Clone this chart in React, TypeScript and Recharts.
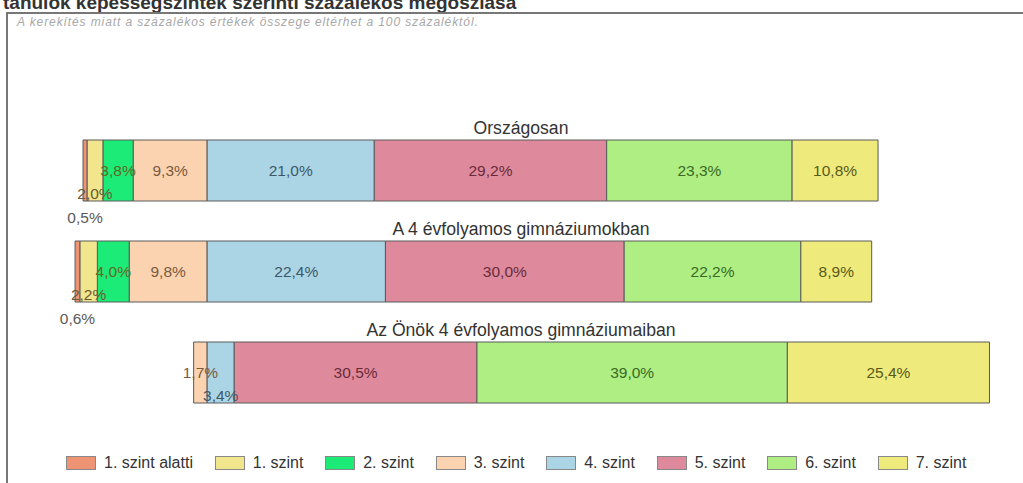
import { BarChart, Bar, XAxis, YAxis, LabelList } from "recharts";

const rowNames = [
  "Országosan",
  "A 4 évfolyamos gimnáziumokban",
  "Az Önök 4 évfolyamos gimnáziumaiban",
];

const levelNames = [
  "1. szint alatti",
  "1. szint",
  "2. szint",
  "3. szint",
  "4. szint",
  "5. szint",
  "6. szint",
  "7. szint",
];

// percentages per row (Országosan, 4 évf. gimn., Önök)
const below1 = [0.5, 0.6, 0];
const lvl1 = [2.0, 2.2, 0];
const lvl2 = [3.8, 4.0, 0];
const lvl3 = [9.3, 9.8, 1.7];
const lvl4 = [21.0, 22.4, 3.4];
const lvl5 = [29.2, 30.0, 30.5];
const lvl6 = [23.3, 22.2, 39.0];
const lvl7 = [10.8, 8.9, 25.4];

const levelValues = [below1, lvl1, lvl2, lvl3, lvl4, lvl5, lvl6, lvl7];

const fills = ["#ee9474", "#f1e68e", "#1deb78", "#fbd3b0", "#abd5e5", "#de8a9c", "#aeee83", "#eeea7c"];
const labelFills = ["#5a5a5a", "#6a5a30", "#5e6a1e", "#7a5a3e", "#3e5868", "#6a2a3a", "#3a6a26", "#5a5a1a"];

// levels below "4. szint" go to the left of zero
const LEFT_COUNT = 4;
// draw order: left side from zero outward, then right side
const drawOrder = [3, 2, 1, 0, 4, 5, 6, 7];

const W = 1023;
const H = 483;
const MARGIN = { top: 120, right: 20, bottom: 60, left: 48 };
const X_DOMAIN: [number, number] = [-20, 100];
const pxPerPct = (W - MARGIN.left - MARGIN.right) / (X_DOMAIN[1] - X_DOMAIN[0]);
const FONT = "'Liberation Sans', Arial, sans-serif";

const fmt = (v: number) => `${v.toFixed(1).replace(".", ",")}%`;

const data = rowNames.map((name, r) => {
  const row: Record<string, any> = { name };
  levelValues.forEach((vals, s) => {
    row[`s${s}`] = s < LEFT_COUNT ? -vals[r] : vals[r];
  });
  return row;
});

// push overlapping small labels down, one step at a time
const labelLevels: number[][] = levelValues.map(() => rowNames.map(() => 0));
rowNames.forEach((_, r) => {
  const placed: { lo: number; hi: number; lv: number }[] = [];
  let neg = 0;
  let pos = 0;
  drawOrder.forEach((s) => {
    const v = levelValues[s][r];
    let center: number;
    if (s < LEFT_COUNT) {
      center = -(neg + v / 2);
      neg += v;
    } else {
      center = pos + v / 2;
      pos += v;
    }
    if (!v) return;
    const half = (fmt(v).length * 9.5) / 2 / pxPerPct;
    const lo = center - half;
    const hi = center + half;
    let lv = 0;
    while (placed.some((p) => p.lv === lv && p.lo < hi && p.hi > lo)) lv++;
    placed.push({ lo, hi, lv });
    labelLevels[s][r] = lv;
  });
});

const makeLabel = (s: number) => (props: any) => {
  const vb = props.viewBox ?? props;
  const idx = props.index;
  if (idx == null) return null;
  const v = levelValues[s][idx];
  if (!v) return null;
  const cx = vb.x + vb.width / 2;
  const cy = vb.y + vb.height / 2 + labelLevels[s][idx] * 23.5;
  return (
    <text
      x={cx}
      y={cy}
      dy="0.35em"
      textAnchor="middle"
      fontSize={15.5}
      fontFamily={FONT}
      fill={labelFills[s]}
    >
      {fmt(v)}
    </text>
  );
};

// row title above each bar, centred over the chart
const rowTitle = (props: any) => {
  const vb = props.viewBox ?? props;
  const idx = props.index;
  if (idx == null) return null;
  return (
    <text x={521} y={vb.y - 12} dy="0.35em" textAnchor="middle" fontSize={17.6} fontFamily={FONT} fill="#333">
      {rowNames[idx]}
    </text>
  );
};

export default function App() {
  return (
    <div style={{ position: "absolute", left: 0, top: 0, width: W, height: H, overflow: "hidden", background: "#fff", fontFamily: FONT }}>
      <div style={{ position: "absolute", left: 3, top: -8, fontSize: 19, fontWeight: "bold", color: "#333", whiteSpace: "nowrap" }}>
        tanulók képességszintek szerinti százalékos megoszlása
      </div>
      <div style={{ position: "absolute", left: 6, top: 12, width: 1100, height: 600, borderLeft: "2px solid #777", borderTop: "2px solid #777" }} />
      <div style={{ position: "absolute", left: 17, top: 15, fontSize: 12, letterSpacing: 0.9, fontStyle: "italic", color: "#a8a8a8", whiteSpace: "nowrap" }}>
        A kerekítés miatt a százalékos értékek összege eltérhet a 100 százaléktól.
      </div>
      <div style={{ position: "absolute", left: 0, top: 0 }}>
        <BarChart width={W} height={H} data={data} layout="vertical" stackOffset="sign" margin={MARGIN} barSize={61}>
          <XAxis type="number" domain={X_DOMAIN} hide allowDataOverflow />
          <YAxis type="category" dataKey="name" hide />
          {drawOrder.map((s) => (
            <Bar
              key={s}
              dataKey={`s${s}`}
              name={levelNames[s]}
              stackId="a"
              fill={fills[s]}
              stroke="#5a5a5a"
              strokeWidth={1}
              isAnimationActive={false}
            >
              <LabelList content={makeLabel(s)} />
              {s === 4 && <LabelList content={rowTitle} />}
            </Bar>
          ))}
        </BarChart>
      </div>
      <div style={{ position: "absolute", left: 66, top: 454, display: "flex", alignItems: "center", fontSize: 16, color: "#333" }}>
        {levelNames.map((n, i) => (
          <div key={n} style={{ display: "flex", alignItems: "center", marginRight: 21.8 }}>
            <div style={{ width: 28, height: 12, background: fills[i], border: "1px solid #888", marginRight: 8 }} />
            <span>{n}</span>
          </div>
        ))}
      </div>
    </div>
  );
}
